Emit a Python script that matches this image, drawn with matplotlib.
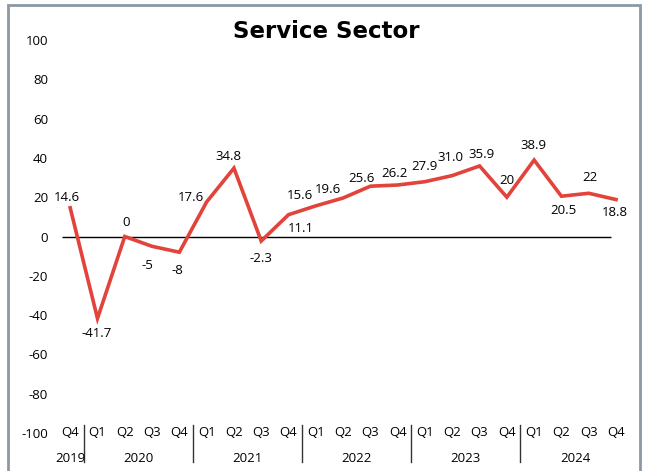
import matplotlib
matplotlib.use("Agg")
import matplotlib.pyplot as plt
import matplotlib.patches as mpatches

plt.rcParams["font.family"] = ["Open Sans", "DejaVu Sans"]

# ── data ───────────────────────────────────────────────────────────────────────
quarters = ["Q4",
            "Q1", "Q2", "Q3", "Q4",
            "Q1", "Q2", "Q3", "Q4",
            "Q1", "Q2", "Q3", "Q4",
            "Q1", "Q2", "Q3", "Q4",
            "Q1", "Q2", "Q3", "Q4"]
years = ["2019", "2020", "2021", "2022", "2023", "2024"]
year_counts = [1, 4, 4, 4, 4, 4]
values = [14.6, -41.7, 0, -5, -8, 17.6, 34.8, -2.3, 11.1, 15.6, 19.6,
          25.6, 26.2, 27.9, 31.0, 35.9, 20, 38.9, 20.5, 22, 18.8]
value_labels = ["14.6", "-41.7", "0", "-5", "-8", "17.6", "34.8", "-2.3", "11.1",
                "15.6", "19.6", "25.6", "26.2", "27.9", "31.0", "35.9", "20",
                "38.9", "20.5", "22", "18.8"]
yticks = list(range(-100, 101, 20))

# label offsets (pixels) relative to each point
label_offsets = [(-3, 10), (-1, -15), (1, 14), (-5, -19), (-2, -18), (-16, 4),
                 (-5, 12), (0, -17), (12, -14), (-16, 10), (-15, 8), (-9, 8),
                 (-3, 12), (0, 15), (-2, 18), (2, 11), (0, 17), (-1, 15),
                 (2, -14), (1, 16), (-1, -13)]

C_LINE = "#E2433A"
C_BORDER = "#8C98A4"

W, H = 646, 471
fig = plt.figure(figsize=(W / 100, H / 100), dpi=100)
ax = fig.add_axes([62 / W, (H - 433) / H, 554 / W, 393 / H])

x = list(range(len(values)))
ax.plot(x, values, color=C_LINE, linewidth=2.6, clip_on=False,
        solid_joinstyle="miter", zorder=3)
ax.hlines(0, -0.3, len(values) - 1.2, color="black", linewidth=1.0, zorder=2)

for i, (v, lab) in enumerate(zip(values, value_labels)):
    dx, dy = label_offsets[i]
    ax.annotate(lab, xy=(i, v), xytext=(dx, dy), textcoords="offset pixels",
                ha="center", va="center", fontsize=9.5, color="black")

ax.set_xlim(-0.3, len(values) - 1)
ax.set_ylim(-100, 100)
ax.set_yticks(yticks)
ax.set_yticklabels([str(t) for t in yticks], fontsize=9.5)
ax.tick_params(axis="y", length=0, pad=10)
ax.set_xticks([])
for s in ax.spines.values():
    s.set_visible(False)

# category axis: quarters, years, separators
tr = ax.get_xaxis_transform()
for i, q in enumerate(quarters):
    ax.text(i, 0, q, transform=tr, ha="center", va="center", fontsize=9.5,
            clip_on=False)
start = 0
for yr, n in zip(years, year_counts):
    ax.annotate(yr, xy=((start + start + n - 1) / 2, 0), xycoords=tr,
                xytext=(0, -25), textcoords="offset pixels",
                ha="center", va="center", fontsize=9.5)
    if start > 0:
        ax.plot([start - 0.5, start - 0.5], [0.02, -0.074], transform=tr,
                color="#333333", linewidth=1.0, clip_on=False)
    start += n

fig.text(326 / W, 1 - 31 / H, "Service Sector", ha="center", va="center",
         fontsize=16.5, fontweight="bold", family="DejaVu Sans")

fig.patches.append(mpatches.Rectangle((8 / W, -0.05), 632 / W, 1.05 - 5 / H,
                                      transform=fig.transFigure, fill=False,
                                      edgecolor=C_BORDER, linewidth=2.0))

fig.savefig("out.png", dpi=100)
